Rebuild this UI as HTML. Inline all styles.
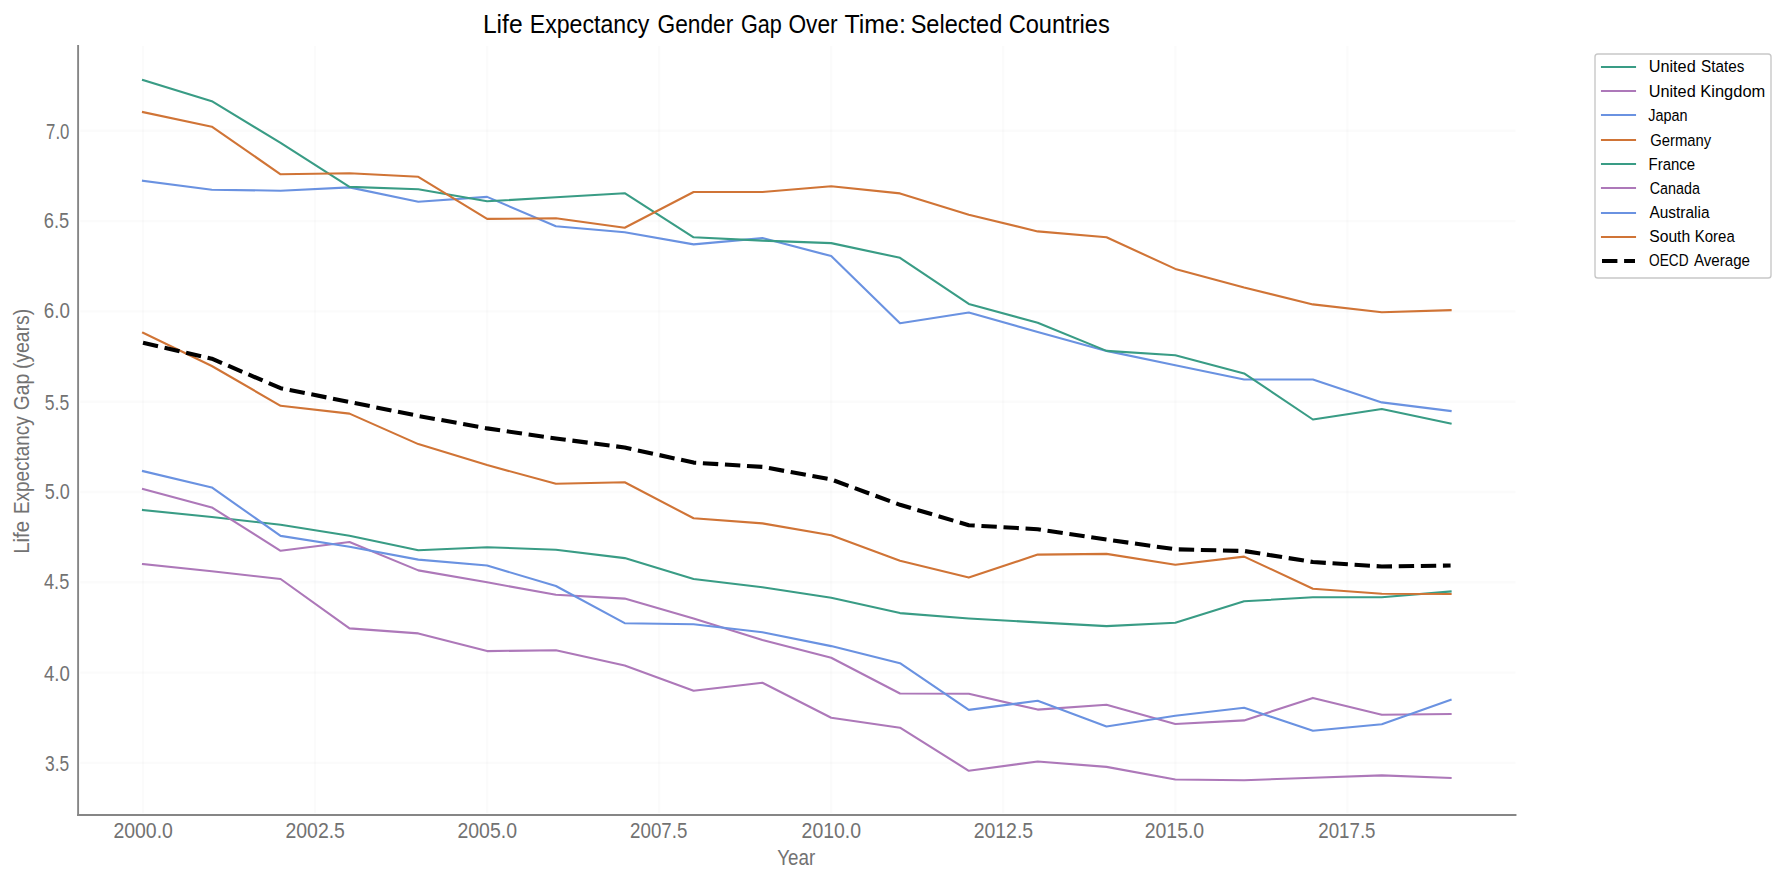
<!DOCTYPE html>
<html lang="en"><head><meta charset="utf-8"><title>Life Expectancy Gender Gap Over Time: Selected Countries</title>
<style>html,body{margin:0;padding:0;background:#fff;}svg{display:block;}text{font-family:"Liberation Sans",sans-serif;}</style>
</head><body>
<svg width="1786" height="884" viewBox="0 0 1786 884">
<rect width="1786" height="884" fill="#ffffff"/>
<g stroke="#000000" stroke-opacity="0.017" stroke-width="2.4" fill="none">
<line x1="143.0" y1="46.0" x2="143.0" y2="813.0"/>
<line x1="315.0" y1="46.0" x2="315.0" y2="813.0"/>
<line x1="487.1" y1="46.0" x2="487.1" y2="813.0"/>
<line x1="659.1" y1="46.0" x2="659.1" y2="813.0"/>
<line x1="831.2" y1="46.0" x2="831.2" y2="813.0"/>
<line x1="1003.2" y1="46.0" x2="1003.2" y2="813.0"/>
<line x1="1175.3" y1="46.0" x2="1175.3" y2="813.0"/>
<line x1="1347.3" y1="46.0" x2="1347.3" y2="813.0"/>
<line x1="80.1" y1="130.8" x2="1515.5" y2="130.8"/>
<line x1="80.1" y1="221.1" x2="1515.5" y2="221.1"/>
<line x1="80.1" y1="311.4" x2="1515.5" y2="311.4"/>
<line x1="80.1" y1="401.7" x2="1515.5" y2="401.7"/>
<line x1="80.1" y1="492.0" x2="1515.5" y2="492.0"/>
<line x1="80.1" y1="582.3" x2="1515.5" y2="582.3"/>
<line x1="80.1" y1="672.6" x2="1515.5" y2="672.6"/>
<line x1="80.1" y1="762.9" x2="1515.5" y2="762.9"/>
</g>
<g fill="none" stroke-width="2.1" stroke-linejoin="round" stroke-linecap="square">
<polyline stroke="#399c85" points="143.0,510.0 211.8,517.0 280.6,524.8 349.5,535.7 418.3,550.3 487.1,547.2 555.9,549.8 624.7,558.1 693.6,579.0 762.4,587.2 831.2,597.7 900.0,613.1 968.8,618.5 1037.7,622.4 1106.5,626.1 1175.3,622.7 1244.1,601.3 1312.9,597.3 1381.8,597.3 1450.6,591.5"/>
<polyline stroke="#ad78b9" points="143.0,489.0 211.8,507.4 280.6,550.8 349.5,542.0 418.3,570.4 487.1,582.3 555.9,594.8 624.7,598.6 693.6,618.5 762.4,640.1 831.2,657.8 900.0,693.5 968.8,693.7 1037.7,709.6 1106.5,704.8 1175.3,724.0 1244.1,720.4 1312.9,697.9 1381.8,714.8 1450.6,714.0"/>
<polyline stroke="#6a92e1" points="143.0,180.8 211.8,189.7 280.6,190.7 349.5,187.4 418.3,201.8 487.1,196.9 555.9,226.2 624.7,232.3 693.6,244.4 762.4,238.1 831.2,256.1 900.0,323.3 968.8,312.5 1037.7,331.9 1106.5,350.9 1175.3,365.2 1244.1,379.5 1312.9,379.5 1381.8,402.4 1450.6,411.0"/>
<polyline stroke="#d07436" points="143.0,332.8 211.8,366.0 280.6,405.8 349.5,413.6 418.3,444.1 487.1,465.1 555.9,483.8 624.7,482.3 693.6,518.3 762.4,523.4 831.2,535.3 900.0,560.8 968.8,577.6 1037.7,554.6 1106.5,553.9 1175.3,564.8 1244.1,556.6 1312.9,588.7 1381.8,593.7 1450.6,594.0"/>
<polyline stroke="#399c85" points="143.0,80.1 211.8,101.2 280.6,142.8 349.5,186.9 418.3,189.2 487.1,201.3 555.9,197.3 624.7,193.2 693.6,237.3 762.4,240.6 831.2,243.1 900.0,257.8 968.8,303.9 1037.7,322.8 1106.5,350.9 1175.3,355.3 1244.1,373.4 1312.9,419.5 1381.8,409.0 1450.6,423.6"/>
<polyline stroke="#ad78b9" points="143.0,564.1 211.8,571.2 280.6,579.0 349.5,628.4 418.3,633.4 487.1,651.1 555.9,650.2 624.7,665.6 693.6,690.8 762.4,682.7 831.2,717.7 900.0,727.7 968.8,770.8 1037.7,761.5 1106.5,766.9 1175.3,779.5 1244.1,780.3 1312.9,777.7 1381.8,775.4 1450.6,777.9"/>
<polyline stroke="#6a92e1" points="143.0,471.1 211.8,487.4 280.6,535.9 349.5,546.8 418.3,559.6 487.1,565.5 555.9,586.0 624.7,623.2 693.6,624.2 762.4,632.3 831.2,646.1 900.0,663.2 968.8,709.9 1037.7,700.8 1106.5,726.5 1175.3,715.8 1244.1,707.7 1312.9,730.8 1381.8,724.2 1450.6,699.8"/>
<polyline stroke="#d07436" points="143.0,112.1 211.8,126.7 280.6,174.3 349.5,173.3 418.3,176.8 487.1,218.9 555.9,218.3 624.7,227.7 693.6,192.0 762.4,192.0 831.2,186.3 900.0,193.4 968.8,214.8 1037.7,231.4 1106.5,237.3 1175.3,268.9 1244.1,287.5 1312.9,304.4 1381.8,312.2 1450.6,310.2"/>
</g>
<polyline fill="none" stroke="#000000" stroke-width="4.1" stroke-linejoin="round" stroke-dasharray="15.4 6.7" points="143.0,342.8 211.8,358.7 280.6,388.2 349.5,402.0 418.3,415.9 487.1,428.4 555.9,438.5 624.7,447.5 693.6,462.6 762.4,466.9 831.2,479.5 900.0,504.8 968.8,525.2 1037.7,529.2 1106.5,539.5 1175.3,549.3 1244.1,551.0 1312.9,562.0 1381.8,566.5 1450.6,565.5"/>
<g stroke="#868686" stroke-width="1.9" fill="none" stroke-linecap="square">
<line x1="78.1" y1="46.0" x2="78.1" y2="815.0"/>
<line x1="78.1" y1="815.0" x2="1515.5" y2="815.0"/>
</g>
<text y="32.7" fill="#000000" font-size="25.2px"><tspan x="482.88" textLength="39.72" lengthAdjust="spacingAndGlyphs">Life</tspan> <tspan x="529.79" textLength="119.51" lengthAdjust="spacingAndGlyphs">Expectancy</tspan> <tspan x="657.54" textLength="75.78" lengthAdjust="spacingAndGlyphs">Gender</tspan> <tspan x="740.99" textLength="40.89" lengthAdjust="spacingAndGlyphs">Gap</tspan> <tspan x="788.44" textLength="49.17" lengthAdjust="spacingAndGlyphs">Over</tspan> <tspan x="844.51" textLength="61.34" lengthAdjust="spacingAndGlyphs">Time:</tspan> <tspan x="910.66" textLength="91.66" lengthAdjust="spacingAndGlyphs">Selected</tspan> <tspan x="1008.69" textLength="101.04" lengthAdjust="spacingAndGlyphs">Countries</tspan></text>
<rect x="1595" y="54" width="176" height="224" rx="2.8" ry="2.8" fill="#ffffff" stroke="#c8c8c8" stroke-width="1.4"/>
<g font-size="17.4px" fill="#000000">
<line x1="1602" y1="67" x2="1635" y2="67" stroke="#399c85" stroke-width="2.1" stroke-linecap="square"/>
<text y="71.9"><tspan x="1648.68" textLength="47.03" lengthAdjust="spacingAndGlyphs">United</tspan> <tspan x="1701.12" textLength="43.25" lengthAdjust="spacingAndGlyphs">States</tspan></text>
<line x1="1602" y1="91" x2="1635" y2="91" stroke="#ad78b9" stroke-width="2.1" stroke-linecap="square"/>
<text y="96.6"><tspan x="1648.68" textLength="47.03" lengthAdjust="spacingAndGlyphs">United</tspan> <tspan x="1700.31" textLength="64.94" lengthAdjust="spacingAndGlyphs">Kingdom</tspan></text>
<line x1="1602" y1="115" x2="1635" y2="115" stroke="#6a92e1" stroke-width="2.1" stroke-linecap="square"/>
<text y="120.8"><tspan x="1648.28" textLength="39.23" lengthAdjust="spacingAndGlyphs">Japan</tspan></text>
<line x1="1602" y1="140" x2="1635" y2="140" stroke="#d07436" stroke-width="2.1" stroke-linecap="square"/>
<text y="145.6"><tspan x="1650.31" textLength="60.89" lengthAdjust="spacingAndGlyphs">Germany</tspan></text>
<line x1="1602" y1="164" x2="1635" y2="164" stroke="#399c85" stroke-width="2.1" stroke-linecap="square"/>
<text y="169.6"><tspan x="1648.53" textLength="46.58" lengthAdjust="spacingAndGlyphs">France</tspan></text>
<line x1="1602" y1="188" x2="1635" y2="188" stroke="#ad78b9" stroke-width="2.1" stroke-linecap="square"/>
<text y="193.6"><tspan x="1649.73" textLength="50.18" lengthAdjust="spacingAndGlyphs">Canada</tspan></text>
<line x1="1602" y1="213" x2="1635" y2="213" stroke="#6a92e1" stroke-width="2.1" stroke-linecap="square"/>
<text y="217.6"><tspan x="1649.4" textLength="60.1" lengthAdjust="spacingAndGlyphs">Australia</tspan></text>
<line x1="1602" y1="237" x2="1635" y2="237" stroke="#d07436" stroke-width="2.1" stroke-linecap="square"/>
<text y="242.3"><tspan x="1649.21" textLength="40.97" lengthAdjust="spacingAndGlyphs">South</tspan> <tspan x="1694.83" textLength="39.87" lengthAdjust="spacingAndGlyphs">Korea</tspan></text>
<line x1="1602" y1="261" x2="1635" y2="261" stroke="#000" stroke-width="4.1" stroke-dasharray="15.4 6.7"/>
<text y="266.4"><tspan x="1649.06" textLength="39.52" lengthAdjust="spacingAndGlyphs">OECD</tspan> <tspan x="1694.0" textLength="56.01" lengthAdjust="spacingAndGlyphs">Average</tspan></text>
</g>
<g fill="#727272" font-size="21.5px">
<text x="113.39" y="838" textLength="59.5" lengthAdjust="spacingAndGlyphs">2000.0</text>
<text x="285.44" y="838" textLength="59.5" lengthAdjust="spacingAndGlyphs">2002.5</text>
<text x="457.49" y="838" textLength="59.5" lengthAdjust="spacingAndGlyphs">2005.0</text>
<text x="630.07" y="838" textLength="57.24" lengthAdjust="spacingAndGlyphs">2007.5</text>
<text x="801.59" y="838" textLength="59.5" lengthAdjust="spacingAndGlyphs">2010.0</text>
<text x="973.64" y="838" textLength="59.5" lengthAdjust="spacingAndGlyphs">2012.5</text>
<text x="1144.69" y="838" textLength="59.5" lengthAdjust="spacingAndGlyphs">2015.0</text>
<text x="1318.27" y="838" textLength="57.24" lengthAdjust="spacingAndGlyphs">2017.5</text>
<text x="46.11" y="139.0" textLength="23.3" lengthAdjust="spacingAndGlyphs">7.0</text>
<text x="43.84" y="228.2" textLength="25.4" lengthAdjust="spacingAndGlyphs">6.5</text>
<text x="43.82" y="318.4" textLength="26.04" lengthAdjust="spacingAndGlyphs">6.0</text>
<text x="44.85" y="409.6" textLength="24.36" lengthAdjust="spacingAndGlyphs">5.5</text>
<text x="44.84" y="499.2" textLength="25.01" lengthAdjust="spacingAndGlyphs">5.0</text>
<text x="44.02" y="589.4" textLength="25.22" lengthAdjust="spacingAndGlyphs">4.5</text>
<text x="44.01" y="681.0" textLength="25.85" lengthAdjust="spacingAndGlyphs">4.0</text>
<text x="45.06" y="770.8" textLength="24.15" lengthAdjust="spacingAndGlyphs">3.5</text>
</g>
<text x="777.21" y="864.8" fill="#727272" font-size="21.5px" textLength="37.99" lengthAdjust="spacingAndGlyphs">Year</text>
<text transform="translate(29.0 552.2) rotate(-90)" y="0" fill="#727272" font-size="21.5px"><tspan x="-1.6" textLength="32.92" lengthAdjust="spacingAndGlyphs">Life</tspan> <tspan x="38.12" textLength="97.68" lengthAdjust="spacingAndGlyphs">Expectancy</tspan> <tspan x="141.99" textLength="36.59" lengthAdjust="spacingAndGlyphs">Gap</tspan> <tspan x="183.19" textLength="60.21" lengthAdjust="spacingAndGlyphs">(years)</tspan></text>
</svg>
</body></html>
